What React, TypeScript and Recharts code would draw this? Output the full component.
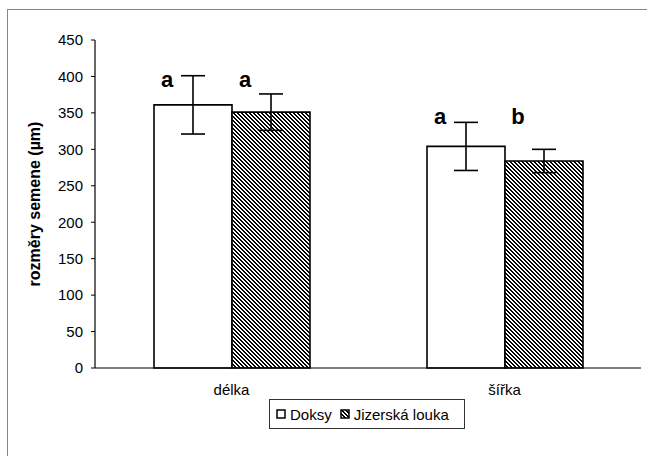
import {
  BarChart,
  Bar,
  XAxis,
  YAxis,
  ErrorBar,
  LabelList,
  Legend,
  ReferenceArea,
} from "recharts";

const categories = ["délka", "šířka"];
const doksyValues = [361, 304];
const doksyErrors = [40, 33];
const jizerskaValues = [351, 284];
const jizerskaErrors = [25, 16];
const doksyLetters = ["a", "a"];
const jizerskaLetters = ["a", "b"];
// height (in µm) of the letter baselines above each category
const letterLevels = [386, 335];
const yTicks = [0, 50, 100, 150, 200, 250, 300, 350, 400, 450];

const chartData = categories.map((name, i) => ({
  name,
  doksy: doksyValues[i],
  doksyErr: doksyErrors[i],
  doksyLetter: doksyLetters[i],
  jizerska: jizerskaValues[i],
  jizerskaErr: jizerskaErrors[i],
  jizerskaLetter: jizerskaLetters[i],
}));

const font = "Arial, 'Liberation Sans', sans-serif";

function makeLetter(values: number[]) {
  return (props: any) => {
    const { x, y, height, index, value } = props;
    const bx = Number(x);
    const by = Number(y);
    const h = Number(height);
    const perUnit = h / values[index];
    const baseline = by + h - letterLevels[index] * perUnit;
    return (
      <text
        x={bx + 13}
        y={baseline}
        textAnchor="middle"
        fontSize={22}
        fontWeight="bold"
        fontFamily={font}
        fill="#000"
      >
        {value}
      </text>
    );
  };
}

function Hatch({ id }: { id: string }) {
  return (
    <pattern id={id} patternUnits="userSpaceOnUse" width={4} height={4}>
      <rect x={0} y={0} width={4} height={4} fill="#fff" />
      <rect x={0} y={0} width={2} height={1} fill="#000" />
      <rect x={1} y={1} width={2} height={1} fill="#000" />
      <rect x={2} y={2} width={2} height={1} fill="#000" />
      <rect x={3} y={3} width={1} height={1} fill="#000" />
      <rect x={0} y={3} width={1} height={1} fill="#000" />
    </pattern>
  );
}

function LegendBox() {
  return (
    <div
      style={{
        boxSizing: "border-box",
        width: 196,
        height: 30,
        border: "1px solid #333",
        background: "#fff",
        display: "flex",
        alignItems: "center",
        paddingLeft: 6,
        fontFamily: font,
        fontSize: 15,
        color: "#000",
      }}
    >
      <svg width={10} height={10} style={{ marginRight: 4 }}>
        <rect x={1} y={1} width={8} height={8} fill="#fff" stroke="#000" strokeWidth={1.5} />
      </svg>
      <span>Doksy</span>
      <svg width={10} height={10} style={{ marginLeft: 8, marginRight: 4 }}>
        <defs>
          <Hatch id="hatchLegend" />
        </defs>
        <rect x={1} y={1} width={8} height={8} fill="url(#hatchLegend)" stroke="#000" strokeWidth={1.5} />
      </svg>
      <span>Jizerská louka</span>
    </div>
  );
}

export default function App() {
  return (
    <div
      style={{
        position: "absolute",
        left: 0,
        top: 0,
        width: 647,
        height: 456,
        overflow: "hidden",
        background: "#fff",
      }}
    >
      <div
        style={{
          position: "absolute",
          left: 7,
          top: 9,
          width: 700,
          height: 500,
          border: "1px solid #868686",
        }}
      />
      <div style={{ position: "absolute", left: 0, top: 0 }}>
        <BarChart
          width={647}
          height={456}
          data={chartData}
          margin={{ top: 40, right: 6, left: 0, bottom: 58 }}
          barGap={0}
          barSize={78}
        >
          <defs>
            <Hatch id="hatchBar" />
          </defs>
          <XAxis
            xAxisId="grid"
            type="number"
            domain={[0, 2]}
            ticks={[0, 1, 2]}
            tick={false}
            tickSize={5}
            axisLine={false}
            tickLine={{ stroke: "#000" }}
            height={0}
          />
          <XAxis
            dataKey="name"
            axisLine={{ stroke: "#000", strokeWidth: 1.2 }}
            tickLine={false}
            tickSize={6}
            tickMargin={10}
            height={30}
            tick={{ fill: "#000", fontSize: 15, fontFamily: font }}
          />
          <YAxis
            width={95}
            domain={[0, 450]}
            ticks={yTicks}
            interval={0}
            tickSize={4}
            tickMargin={8}
            axisLine={{ stroke: "#000", strokeWidth: 1.2 }}
            tickLine={{ stroke: "#000" }}
            tick={{ fill: "#000", fontSize: 15, fontFamily: font }}
            label={{
              value: "rozměry semene (µm)",
              angle: -90,
              position: "insideLeft",
              offset: 34,
              style: {
                textAnchor: "middle",
                fontSize: 16,
                fontWeight: "bold",
                fontFamily: font,
                fill: "#000",
              },
            }}
          />
          <ReferenceArea
            xAxisId="grid"
            x1={0}
            x2={2}
            y1={0}
            y2={450}
            fill="none"
            stroke="#808080"
            strokeWidth={1}
          />
          <Bar
            dataKey="doksy"
            name="Doksy"
            fill="#fff"
            stroke="#000"
            strokeWidth={1.6}
            isAnimationActive={false}
          >
            <ErrorBar dataKey="doksyErr" width={12} stroke="#000" strokeWidth={1.6} />
            <LabelList dataKey="doksyLetter" content={makeLetter(doksyValues)} />
          </Bar>
          <Bar
            dataKey="jizerska"
            name="Jizerská louka"
            fill="url(#hatchBar)"
            stroke="#000"
            strokeWidth={1.6}
            isAnimationActive={false}
          >
            <ErrorBar dataKey="jizerskaErr" width={12} stroke="#000" strokeWidth={1.6} />
            <LabelList dataKey="jizerskaLetter" content={makeLetter(jizerskaValues)} />
          </Bar>
          <Legend
            layout="horizontal"
            verticalAlign="middle"
            align="center"
            content={() => <LegendBox />}
            wrapperStyle={{ left: 269, top: 399, width: 196, height: 30 }}
          />
        </BarChart>
      </div>
    </div>
  );
}
